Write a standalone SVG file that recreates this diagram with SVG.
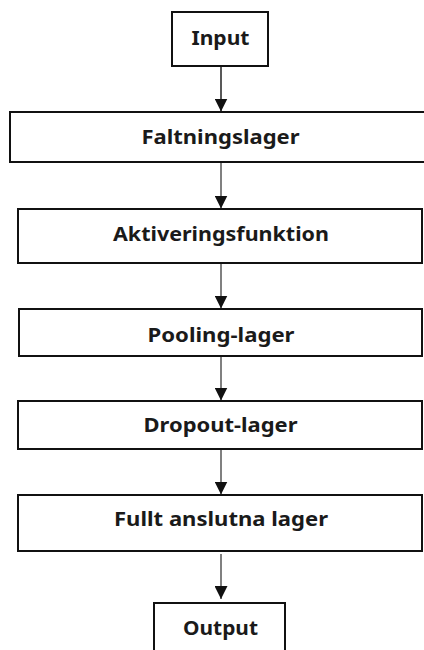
<svg xmlns="http://www.w3.org/2000/svg" width="424" height="650" viewBox="0 0 424 650">
<style>
  .box { fill: #ffffff; stroke: #111111; stroke-width: 2; }
  .lbl { font-family: "Noto Sans", "Open Sans", "Liberation Sans", sans-serif; font-weight: 700; font-size: 20px; fill: #1a1a1a; text-anchor: middle; }
  .conn { stroke: #808080; stroke-width: 2; fill: none; }
  .conn.dark { stroke: #222222; stroke-width: 1.5; }
</style>
<defs>
  <marker id="arr" markerUnits="userSpaceOnUse" markerWidth="13" markerHeight="13" viewBox="0 0 13 13" refX="13" refY="6.5" orient="auto">
    <path d="M0,0 L13,6.5 L0,13 Z" fill="#111111"/>
  </marker>
</defs>
<rect width="424" height="650" fill="#ffffff"/>
<g id="connectors">
  <line class="conn dark" x1="221" y1="66" x2="221" y2="111.5" marker-end="url(#arr)"/>
  <line class="conn" x1="221" y1="163" x2="221" y2="208.5" marker-end="url(#arr)"/>
  <line class="conn" x1="221" y1="264" x2="221" y2="308.5" marker-end="url(#arr)"/>
  <line class="conn" x1="221" y1="357" x2="221" y2="400.5" marker-end="url(#arr)"/>
  <line class="conn" x1="221" y1="450" x2="221" y2="494.5" marker-end="url(#arr)"/>
  <line class="conn" x1="221" y1="554" x2="221" y2="599" marker-end="url(#arr)"/>
</g>
<g id="input">
  <rect class="box" x="172" y="12" width="96" height="54"/>
  <text class="lbl" x="220.5" y="45" textLength="58" lengthAdjust="spacingAndGlyphs">Input</text>
</g>
<g id="faltningslager">
  <rect class="box" x="10" y="112" width="424" height="50"/>
  <text class="lbl" x="220.5" y="144" textLength="158" lengthAdjust="spacingAndGlyphs">Faltningslager</text>
</g>
<g id="aktiveringsfunktion">
  <rect class="box" x="18" y="209" width="404" height="54"/>
  <text class="lbl" x="221" y="241" textLength="216" lengthAdjust="spacingAndGlyphs">Aktiveringsfunktion</text>
</g>
<g id="pooling">
  <rect class="box" x="19" y="309" width="403" height="47"/>
  <text class="lbl" x="221" y="342" textLength="147" lengthAdjust="spacingAndGlyphs">Pooling-lager</text>
</g>
<g id="dropout">
  <rect class="box" x="18" y="401" width="404" height="48"/>
  <text class="lbl" x="220.5" y="432" textLength="154" lengthAdjust="spacingAndGlyphs">Dropout-lager</text>
</g>
<g id="fullt">
  <rect class="box" x="18" y="495" width="404" height="56"/>
  <text class="lbl" x="221" y="526" textLength="214" lengthAdjust="spacingAndGlyphs">Fullt anslutna lager</text>
</g>
<g id="output">
  <rect class="box" x="154" y="603" width="131" height="60"/>
  <text class="lbl" x="220.5" y="635" textLength="75" lengthAdjust="spacingAndGlyphs">Output</text>
</g>
</svg>
